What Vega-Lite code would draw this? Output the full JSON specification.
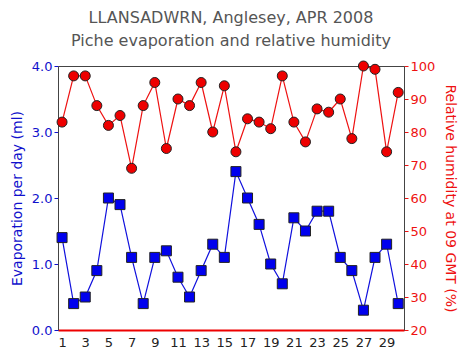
{
  "$schema": "https://vega.github.io/schema/vega-lite/v6.json",
  "width": 346,
  "height": 264,
  "autosize": {"type": "none"},
  "padding": {"left": 58, "top": 66, "right": 64, "bottom": 30},
  "background": "white",
  "config": {
    "font": "DejaVu Sans",
    "view": {"stroke": "#444444", "strokeWidth": 1},
    "axis": {"grid": false, "labelFont": "DejaVu Sans", "titleFont": "DejaVu Sans", "labelFontSize": 12, "titleFontSize": 14, "titleFontWeight": "normal"}
  },
  "title": {
    "text": ["LLANSADWRN, Anglesey, APR 2008", "Piche evaporation and relative humidity"],
    "fontSize": 16,
    "fontWeight": "normal",
    "color": "#555555",
    "lineHeight": 23,
    "anchor": "middle",
    "offset": 10
  },
  "data": {
    "values": [
      {"day": 1, "evap": 1.4, "rh": 83},
      {"day": 2, "evap": 0.4, "rh": 97},
      {"day": 3, "evap": 0.5, "rh": 97},
      {"day": 4, "evap": 0.9, "rh": 88},
      {"day": 5, "evap": 2.0, "rh": 82},
      {"day": 6, "evap": 1.9, "rh": 85},
      {"day": 7, "evap": 1.1, "rh": 69},
      {"day": 8, "evap": 0.4, "rh": 88},
      {"day": 9, "evap": 1.1, "rh": 95},
      {"day": 10, "evap": 1.2, "rh": 75},
      {"day": 11, "evap": 0.8, "rh": 90},
      {"day": 12, "evap": 0.5, "rh": 88},
      {"day": 13, "evap": 0.9, "rh": 95},
      {"day": 14, "evap": 1.3, "rh": 80},
      {"day": 15, "evap": 1.1, "rh": 94},
      {"day": 16, "evap": 2.4, "rh": 74},
      {"day": 17, "evap": 2.0, "rh": 84},
      {"day": 18, "evap": 1.6, "rh": 83},
      {"day": 19, "evap": 1.0, "rh": 81},
      {"day": 20, "evap": 0.7, "rh": 97},
      {"day": 21, "evap": 1.7, "rh": 83},
      {"day": 22, "evap": 1.5, "rh": 77},
      {"day": 23, "evap": 1.8, "rh": 87},
      {"day": 24, "evap": 1.8, "rh": 86},
      {"day": 25, "evap": 1.1, "rh": 90},
      {"day": 26, "evap": 0.9, "rh": 78},
      {"day": 27, "evap": 0.3, "rh": 100},
      {"day": 28, "evap": 1.1, "rh": 99},
      {"day": 29, "evap": 1.3, "rh": 74},
      {"day": 30, "evap": 0.4, "rh": 92}
    ]
  },
  "encoding": {
    "x": {
      "field": "day",
      "type": "quantitative",
      "scale": {"domain": [0.65, 30.5], "nice": false, "zero": false},
      "axis": {
        "title": null,
        "values": [1, 3, 5, 7, 9, 11, 13, 15, 17, 19, 21, 23, 25, 27, 29],
        "labelColor": "#222222",
        "labelFontSize": 13,
        "domainColor": "#ee0000",
        "domainWidth": 2,
        "ticks": false,
        "labelPadding": 6
      }
    }
  },
  "layer": [
    {
      "layer": [
        {"mark": {"type": "line", "color": "#1010dd", "strokeWidth": 1.2}},
        {"mark": {"type": "point", "shape": "square", "filled": true, "fill": "#0000ee", "stroke": "#222222", "strokeWidth": 1, "size": 100, "opacity": 1}}
      ],
      "encoding": {
        "y": {
          "field": "evap",
          "type": "quantitative",
          "scale": {"domain": [0, 4], "nice": false},
          "axis": {
            "title": "Evaporation per day (ml)",
            "titleColor": "#1010cc",
            "labelColor": "#1010cc",
            "tickColor": "#1010cc",
            "domainColor": "#444444",
            "values": [0, 1, 2, 3, 4],
            "format": ".1f",
            "labelFontSize": 13,
            "tickSize": 4,
            "titlePadding": 7
          }
        }
      }
    },
    {
      "layer": [
        {"mark": {"type": "line", "color": "#ee1111", "strokeWidth": 1.2}},
        {"mark": {"type": "point", "shape": "circle", "filled": true, "fill": "#ee0000", "stroke": "#222222", "strokeWidth": 1, "size": 100, "opacity": 1}}
      ],
      "encoding": {
        "y": {
          "field": "rh",
          "type": "quantitative",
          "scale": {"domain": [20, 100], "nice": false},
          "axis": {
            "orient": "right",
            "title": "Relative humidity at 09 GMT (%)",
            "titleColor": "#ee1111",
            "labelColor": "#ee1111",
            "tickColor": "#ee1111",
            "domainColor": "#444444",
            "values": [20, 30, 40, 50, 60, 70, 80, 90, 100],
            "labelFontSize": 13,
            "tickSize": 4,
            "titlePadding": 8
          }
        }
      }
    }
  ],
  "resolve": {"scale": {"y": "independent"}}
}
